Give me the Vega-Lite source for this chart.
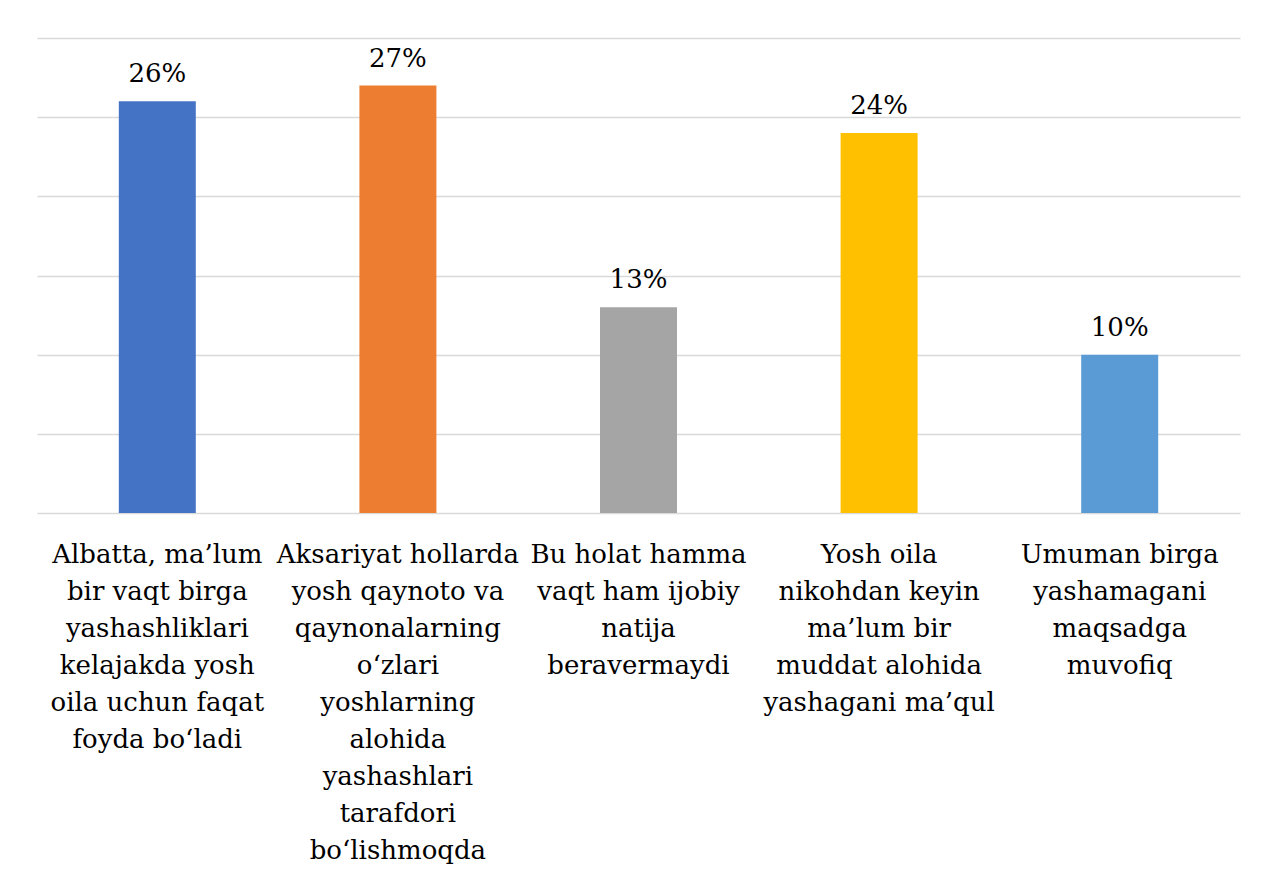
{
  "$schema": "https://vega.github.io/schema/vega-lite/v6.json",
  "autosize": {"type": "none"},
  "width": 1203,
  "height": 475,
  "padding": {"left": 37, "top": 38, "right": 34, "bottom": 364},
  "background": "white",
  "config": {"view": {"stroke": null}, "font": "DejaVu Serif"},
  "data": {"values": [
    {"category": "Albatta, ma’lum|bir vaqt birga|yashashliklari|kelajakda yosh|oila uchun faqat|foyda bo‘ladi", "value": 26, "label": "26%", "order": 1},
    {"category": "Aksariyat hollarda|yosh qaynoto va|qaynonalarning|o‘zlari|yoshlarning|alohida|yashashlari|tarafdori|bo‘lishmoqda", "value": 27, "label": "27%", "order": 2},
    {"category": "Bu holat hamma|vaqt ham ijobiy|natija|beravermaydi", "value": 13, "label": "13%", "order": 3},
    {"category": "Yosh oila|nikohdan keyin|ma’lum bir|muddat alohida|yashagani ma’qul", "value": 24, "label": "24%", "order": 4},
    {"category": "Umuman birga|yashamagani|maqsadga|muvofiq", "value": 10, "label": "10%", "order": 5}
  ]},
  "encoding": {
    "x": {
      "field": "category", "type": "nominal", "sort": {"field": "order"},
      "scale": {"paddingInner": 0.68, "paddingOuter": 0.34},
      "axis": {
        "title": null, "domain": false, "ticks": false, "labelAngle": 0,
        "labelExpr": "split(datum.label, '|')",
        "labelFont": "DejaVu Serif", "labelFontSize": 26, "labelColor": "#000000",
        "labelLineHeight": 37, "labelPadding": 28, "labelBaseline": "top",
        "labelLimit": 400
      }
    },
    "y": {
      "field": "value", "type": "quantitative",
      "scale": {"domain": [0, 30]},
      "axis": {
        "title": null, "labels": false, "ticks": false, "domain": false,
        "values": [0, 5, 10, 15, 20, 25, 30],
        "gridColor": "#D9D9D9", "gridWidth": 1.5
      }
    }
  },
  "layer": [
    {
      "mark": {"type": "bar"},
      "encoding": {
        "color": {
          "field": "category", "type": "nominal", "sort": {"field": "order"}, "legend": null,
          "scale": {"range": ["#4472C4", "#ED7D31", "#A5A5A5", "#FFC000", "#5B9BD5"]}
        }
      }
    },
    {
      "mark": {"type": "text", "baseline": "alphabetic", "dy": -19, "font": "DejaVu Serif", "fontSize": 26, "color": "#000000"},
      "encoding": {"text": {"field": "label"}}
    }
  ]
}
